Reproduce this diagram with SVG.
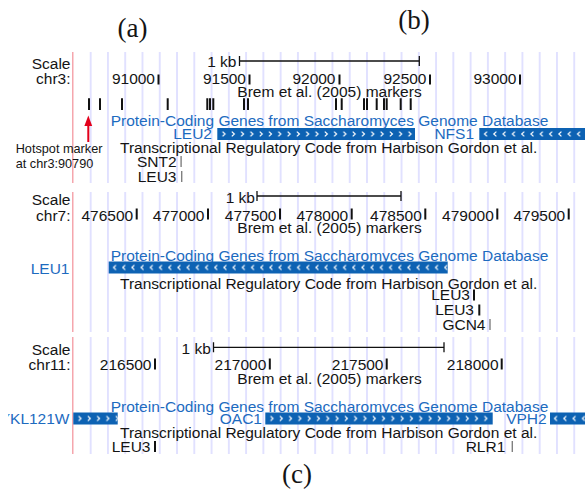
<svg xmlns="http://www.w3.org/2000/svg" width="585" height="490" viewBox="0 0 585 490">
<defs>
<style>
.t{font-family:"Liberation Sans",Arial,Helvetica,sans-serif;font-size:15.5px;fill:#141414}
.bl{fill:#1d6bbf}
.hs{font-family:"Liberation Sans",Arial,Helvetica,sans-serif;font-size:12.7px;fill:#141414}
.lab{font-family:"Liberation Serif","Times New Roman",serif;font-size:27px;fill:#141414}
.tk{fill:#111}
.gt{fill:#808080}
.bar{fill:#0d62b3}
.sb{stroke:#111;stroke-width:1.3;fill:none}
.ch{stroke:#fff;stroke-width:1.2;fill:none}
</style>
<pattern id="grid" patternUnits="userSpaceOnUse" x="73.4" y="0" width="17.27" height="10">
<rect x="-0.75" y="0" width="1.5" height="10" fill="#d9d9ff"/>
<rect x="16.52" y="0" width="1.5" height="10" fill="#d9d9ff"/>
</pattern>
<pattern id="ra" patternUnits="userSpaceOnUse" x="219" y="128" width="9.3" height="12"><path class="ch" d="M3.5,3.6 L6,6 L3.5,8.4"/></pattern>
<pattern id="la" patternUnits="userSpaceOnUse" x="481" y="128" width="9.3" height="12"><path class="ch" d="M6,3.6 L3.5,6 L6,8.4"/></pattern>
<pattern id="lb" patternUnits="userSpaceOnUse" x="110" y="261.5" width="9.2" height="12"><path class="ch" d="M6,3.6 L3.5,6 L6,8.4"/></pattern>
<pattern id="rc" patternUnits="userSpaceOnUse" x="75" y="412.5" width="9.3" height="12"><path class="ch" d="M3.5,3.6 L6,6 L3.5,8.4"/></pattern>
<pattern id="rc2" patternUnits="userSpaceOnUse" x="267" y="412.5" width="9.3" height="12"><path class="ch" d="M3.5,3.6 L6,6 L3.5,8.4"/></pattern>
<pattern id="lc" patternUnits="userSpaceOnUse" x="551" y="412.5" width="9.3" height="12"><path class="ch" d="M6,3.6 L3.5,6 L6,8.4"/></pattern>
<clipPath id="lc9"><rect x="8.3" y="0" width="600" height="490"/></clipPath>
</defs>
<rect width="585" height="490" fill="#fff"/>

<g id="labels">
<text class="lab" x="132.5" y="37" text-anchor="middle">(a)</text>
<text class="lab" x="414" y="28.5" text-anchor="middle">(b)</text>
<text class="lab" x="297" y="483" text-anchor="middle">(c)</text>
</g>

<g id="grids">
<rect x="80" y="52" width="505" height="131" fill="url(#grid)"/>
<rect x="80" y="192" width="505" height="140" fill="url(#grid)"/>
<rect x="80" y="337" width="505" height="117" fill="url(#grid)"/>
<rect x="72" y="52" width="1.5" height="131" fill="#f5a6ad"/>
<rect x="72" y="192" width="1.5" height="140" fill="#f5a6ad"/>
<rect x="72" y="337" width="1.5" height="117" fill="#f5a6ad"/>
</g>

<g id="panel-a">
<g id="a-scale">
<text class="t" x="70.5" y="69.3" text-anchor="end">Scale</text>
<text class="t" x="70.5" y="84.3" text-anchor="end">chr3:</text>
<text class="t" x="236.5" y="66.5" text-anchor="end">1 kb</text>
<path class="sb" d="M239.5,61 H419.3 M239.5,56 V66 M419.3,56 V66"/>
<text class="t" x="155" y="84.3" text-anchor="end">91000</text>
<rect class="tk" x="157.5" y="74.5" width="2" height="10"/>
<text class="t" x="246" y="84.3" text-anchor="end">91500</text>
<rect class="tk" x="248.5" y="74.5" width="2" height="10"/>
<text class="t" x="335.5" y="84.3" text-anchor="end">92000</text>
<rect class="tk" x="338.5" y="74.5" width="2" height="10"/>
<text class="t" x="426.5" y="84.3" text-anchor="end">92500</text>
<rect class="tk" x="429" y="74.5" width="2" height="10"/>
<text class="t" x="516.5" y="84.3" text-anchor="end">93000</text>
<rect class="tk" x="519" y="74.5" width="2" height="10"/>
</g>
<g id="a-markers">
<text class="t" x="237.3" y="97">Brem et al. (2005) markers</text>
<path stroke="#111" stroke-width="2" d="M89,98.3V110 M100,98.3V110 M122,98.3V110 M167.7,98.3V110 M207.3,98.3V110 M210,98.3V110 M213.3,98.3V110 M244,98.3V110 M248,98.3V110 M336,98.3V110 M341.7,98.3V110 M364,98.3V110 M367,98.3V110 M376.7,98.3V110 M384,98.3V110 M386.7,98.3V110 M400.7,98.3V110 M410.7,98.3V110"/>
</g>
<g id="a-hotspot">
<polygon points="88.3,115.5 84.4,126 92.2,126" fill="#e3001b"/>
<rect x="87.3" y="125" width="2" height="17" fill="#e3001b"/>
<text class="hs" x="15.7" y="153.3">Hotspot marker</text>
<text class="hs" x="15.7" y="168.3">at chr3:90790</text>
</g>
<g id="a-genes">
<text class="t bl" x="110.7" y="126">Protein-Coding Genes from Saccharomyces Genome Database</text>
<text class="t bl" x="212" y="139.3" text-anchor="end">LEU2</text>
<rect class="bar" x="217.3" y="128" width="197.7" height="12"/>
<rect x="217.3" y="128" width="197.7" height="12" fill="url(#ra)"/>
<text class="t bl" x="474" y="139.3" text-anchor="end">NFS1</text>
<rect class="bar" x="479.3" y="128" width="106" height="12"/>
<rect x="479.3" y="128" width="106" height="12" fill="url(#la)"/>
</g>
<g id="a-tf">
<text class="t" x="120" y="153.3">Transcriptional Regulatory Code from Harbison Gordon et al.</text>
<text class="t" x="176.5" y="166.7" text-anchor="end">SNT2</text>
<rect class="gt" x="180.4" y="156" width="1.4" height="11"/>
<text class="t" x="176.5" y="181.7" text-anchor="end">LEU3</text>
<rect class="gt" x="181" y="171" width="1.4" height="11"/>
</g>
</g>

<g id="panel-b">
<g id="b-scale">
<text class="t" x="70.5" y="205" text-anchor="end">Scale</text>
<text class="t" x="70.5" y="220.7" text-anchor="end">chr7:</text>
<text class="t" x="255" y="203" text-anchor="end">1 kb</text>
<path class="sb" d="M257,196 H401 M257,191 V201 M401,191 V201"/>
<text class="t" x="133.2" y="220.5" text-anchor="end">476500</text>
<rect class="tk" x="135.7" y="208.5" width="2" height="11"/>
<text class="t" x="204.5" y="220.5" text-anchor="end">477000</text>
<rect class="tk" x="207" y="208.5" width="2" height="11"/>
<text class="t" x="276.5" y="220.5" text-anchor="end">477500</text>
<rect class="tk" x="279" y="208.5" width="2" height="11"/>
<text class="t" x="348.2" y="220.5" text-anchor="end">478000</text>
<rect class="tk" x="350.7" y="208.5" width="2" height="11"/>
<text class="t" x="421.8" y="220.5" text-anchor="end">478500</text>
<rect class="tk" x="424.3" y="208.5" width="2" height="11"/>
<text class="t" x="493.8" y="220.5" text-anchor="end">479000</text>
<rect class="tk" x="496.3" y="208.5" width="2" height="11"/>
<text class="t" x="565.2" y="220.5" text-anchor="end">479500</text>
<rect class="tk" x="567.7" y="208.5" width="2" height="11"/>
</g>
<g id="b-markers">
<text class="t" x="237.3" y="233.3">Brem et al. (2005) markers</text>
</g>
<g id="b-genes">
<text class="t bl" x="110.7" y="261">Protein-Coding Genes from Saccharomyces Genome Database</text>
<text class="t bl" x="69.5" y="274" text-anchor="end">LEU1</text>
<rect class="bar" x="108.7" y="261.5" width="339" height="12"/>
<rect x="108.7" y="261.5" width="339" height="12" fill="url(#lb)"/>
</g>
<g id="b-tf">
<text class="t" x="120" y="289">Transcriptional Regulatory Code from Harbison Gordon et al.</text>
<text class="t" x="470" y="300.3" text-anchor="end">LEU3</text>
<rect class="tk" x="473" y="289.5" width="2" height="11"/>
<text class="t" x="474" y="315" text-anchor="end">LEU3</text>
<rect class="tk" x="478.3" y="304.5" width="2" height="11"/>
<text class="t" x="485.5" y="329.5" text-anchor="end">GCN4</text>
<rect class="gt" x="489.3" y="319" width="1.4" height="11"/>
</g>
</g>

<g id="panel-c">
<g id="c-scale">
<text class="t" x="70.5" y="355" text-anchor="end">Scale</text>
<text class="t" x="70.5" y="370" text-anchor="end">chr11:</text>
<text class="t" x="210.8" y="354" text-anchor="end">1 kb</text>
<path class="sb" d="M213.5,347.3 H444 M213.5,342.3 V352.3 M444,342.3 V352.3"/>
<text class="t" x="151.5" y="370" text-anchor="end">216500</text>
<rect class="tk" x="154" y="358.5" width="2" height="11"/>
<text class="t" x="266.3" y="370" text-anchor="end">217000</text>
<rect class="tk" x="268.8" y="358.5" width="2" height="11"/>
<text class="t" x="383.5" y="370" text-anchor="end">217500</text>
<rect class="tk" x="385.7" y="358.5" width="2" height="11"/>
<text class="t" x="498.6" y="370" text-anchor="end">218000</text>
<rect class="tk" x="500.7" y="358.5" width="2" height="11"/>
</g>
<g id="c-markers">
<text class="t" x="237.3" y="384">Brem et al. (2005) markers</text>
</g>
<g id="c-genes">
<text class="t bl" x="110.7" y="412">Protein-Coding Genes from Saccharomyces Genome Database</text>
<text class="t bl" x="69.5" y="424" text-anchor="end" clip-path="url(#lc9)">YKL121W</text>
<rect class="bar" x="73.3" y="412.5" width="44.4" height="12"/>
<rect x="73.3" y="412.5" width="44.4" height="12" fill="url(#rc)"/>
<text class="t bl" x="262" y="424" text-anchor="end">OAC1</text>
<rect class="bar" x="265.3" y="412.5" width="227.4" height="12"/>
<rect x="265.3" y="412.5" width="227.4" height="12" fill="url(#rc2)"/>
<text class="t bl" x="546.7" y="424" text-anchor="end">VPH2</text>
<rect class="bar" x="550" y="412.5" width="35.5" height="12"/>
<rect x="550" y="412.5" width="35.5" height="12" fill="url(#lc)"/>
</g>
<g id="c-tf">
<text class="t" x="120" y="438.3">Transcriptional Regulatory Code from Harbison Gordon et al.</text>
<text class="t" x="150.5" y="451.7" text-anchor="end">LEU3</text>
<rect class="tk" x="154" y="441" width="2" height="11"/>
<text class="t" x="505.3" y="451.7" text-anchor="end">RLR1</text>
<rect class="gt" x="511.6" y="441" width="1.4" height="11"/>
</g>
</g>
</svg>
